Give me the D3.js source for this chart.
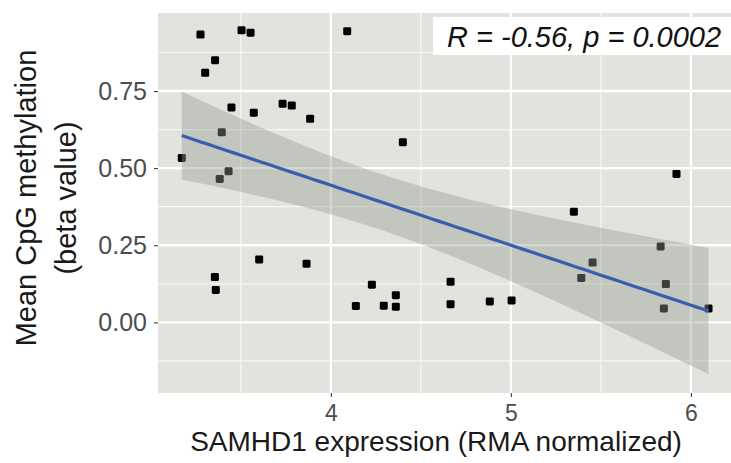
<!DOCTYPE html>
<html>
<head>
<meta charset="utf-8">
<script src="https://cdn.jsdelivr.net/npm/d3@7"></script>
<style>
  html, body { margin: 0; padding: 0; background: #ffffff; }
  svg { display: block; font-family: "Liberation Sans", Arial, Helvetica, sans-serif; }
</style>
</head>
<body>
<svg id="chart" width="731" height="463"></svg>
<script>
// SAMHD1 expression (RMA normalized) for each sample
const expression = [
  3.276, 3.504, 3.554, 3.357, 3.302, 3.448, 3.572, 3.732, 3.783, 3.885,
  3.394, 3.172, 3.432, 3.383, 4.091, 4.400, 3.602, 3.865, 3.356, 3.361,
  4.228, 4.139, 4.294, 4.361, 4.361, 4.665, 4.665, 4.883, 5.004, 5.920,
  5.350, 5.832, 5.454, 5.391, 5.861, 5.850, 6.098
];
// Mean CpG methylation (beta value) for the same samples
const methylation = [
  0.933, 0.947, 0.939, 0.850, 0.809, 0.697, 0.680, 0.709, 0.703, 0.660,
  0.616, 0.533, 0.490, 0.465, 0.944, 0.584, 0.204, 0.190, 0.147, 0.105,
  0.122, 0.053, 0.054, 0.088, 0.051, 0.132, 0.059, 0.068, 0.071, 0.481,
  0.359, 0.246, 0.194, 0.144, 0.124, 0.045, 0.045
];
const xTicks = [4, 5, 6];
const xMinor = [3.5, 4.5, 5.5];
const yTicks = [0, 0.25, 0.5, 0.75];
const yTickLabels = ["0.00", "0.25", "0.50", "0.75"];
const yMinor = [-0.125, 0.125, 0.375, 0.625, 0.875];
const statLabel = "R = -0.56, p = 0.0002";
const xTitle = "SAMHD1 expression (RMA normalized)";
const yTitleLines = ["Mean CpG methylation", "(beta value)"];

const svg = d3.select("#chart");
const panel = { left: 158, right: 735, top: 13, bottom: 393 };

const x = d3.scaleLinear().domain([3.04, 6.245]).range([panel.left, panel.right]);
const y = d3.scaleLinear().domain([-0.229, 1.003]).range([panel.bottom, panel.top]);

// Panel background
svg.append("rect")
  .attr("x", panel.left).attr("y", panel.top)
  .attr("width", panel.right - panel.left).attr("height", panel.bottom - panel.top)
  .attr("fill", "#e1e3de");

const grid = svg.append("g");
grid.selectAll("line.ymin").data(yMinor).join("line")
  .attr("x1", panel.left).attr("x2", panel.right)
  .attr("y1", d => y(d)).attr("y2", d => y(d))
  .attr("stroke", "#f7f7f5").attr("stroke-width", 1.2);
grid.selectAll("line.xmin").data(xMinor).join("line")
  .attr("y1", panel.top).attr("y2", panel.bottom)
  .attr("x1", d => x(d)).attr("x2", d => x(d))
  .attr("stroke", "#f7f7f5").attr("stroke-width", 1.2);
grid.selectAll("line.ymaj").data(yTicks).join("line")
  .attr("x1", panel.left).attr("x2", panel.right)
  .attr("y1", d => y(d)).attr("y2", d => y(d))
  .attr("stroke", "#ffffff").attr("stroke-width", 2.4);
grid.selectAll("line.xmaj").data(xTicks).join("line")
  .attr("y1", panel.top).attr("y2", panel.bottom)
  .attr("x1", d => x(d)).attr("x2", d => x(d))
  .attr("stroke", "#ffffff").attr("stroke-width", 2.4);

// Points
const pts = expression.map((e, i) => ({ x: e, y: methylation[i] }));
svg.append("g").selectAll("rect").data(pts).join("rect")
  .attr("x", d => x(d.x) - 4).attr("y", d => y(d.y) - 4)
  .attr("width", 8).attr("height", 8).attr("rx", 1.4)
  .attr("fill", "#000000");

// Linear fit with 95% confidence band
const n = pts.length;
const mx = d3.mean(pts, d => d.x), my = d3.mean(pts, d => d.y);
const sxx = d3.sum(pts, d => (d.x - mx) ** 2);
const sxy = d3.sum(pts, d => (d.x - mx) * (d.y - my));
const slope = sxy / sxx, intercept = my - slope * mx;
const rss = d3.sum(pts, d => (d.y - (intercept + slope * d.x)) ** 2);
const se = Math.sqrt(rss / (n - 2));
const tq = 2.030; // t(0.975, df = 35)
const [xlo, xhi] = d3.extent(pts, d => d.x);
const fit = d3.range(0, 81).map(i => {
  const xv = xlo + (xhi - xlo) * i / 80;
  const yv = intercept + slope * xv;
  const h = tq * se * Math.sqrt(1 / n + (xv - mx) ** 2 / sxx);
  return { x: xv, y: yv, lo: yv - h, hi: yv + h };
});

svg.append("path").datum(fit)
  .attr("d", d3.area().x(d => x(d.x)).y0(d => y(d.lo)).y1(d => y(d.hi)))
  .attr("fill", "#969a8e").attr("fill-opacity", 0.4);
svg.append("path").datum(fit)
  .attr("d", d3.line().x(d => x(d.x)).y(d => y(d.y)))
  .attr("fill", "none").attr("stroke", "#3a5eae").attr("stroke-width", 3.2);

// Correlation label
svg.append("rect")
  .attr("x", 433).attr("y", 17).attr("width", 300).attr("height", 38)
  .attr("fill", "#ffffff");
svg.append("text")
  .attr("x", 447).attr("y", 47)
  .attr("font-size", 29).attr("font-style", "italic").attr("fill", "#111111")
  .text(statLabel);

// Axes
const xAxis = svg.append("g").attr("transform", `translate(0,${panel.bottom})`)
  .call(d3.axisBottom(x).tickValues(xTicks).tickSize(4).tickPadding(8).tickFormat(d3.format("d")));
const yAxis = svg.append("g").attr("transform", `translate(${panel.left},0)`)
  .call(d3.axisLeft(y).tickValues(yTicks).tickSize(4).tickPadding(7).tickFormat((d, i) => yTickLabels[i]));
[xAxis, yAxis].forEach(a => {
  a.select(".domain").remove();
  a.selectAll(".tick line").attr("stroke", "#333333");
  a.selectAll(".tick text").attr("fill", "#4d4d4d")
    .attr("font-family", "Liberation Sans, Arial, sans-serif");
});
xAxis.selectAll(".tick text").attr("font-size", 23);
yAxis.selectAll(".tick text").attr("font-size", 25);

svg.append("text")
  .attr("x", 436).attr("y", 451)
  .attr("text-anchor", "middle").attr("font-size", 28).attr("fill", "#1a1a1a")
  .text(xTitle);

const yt = svg.append("text")
  .attr("transform", "translate(0,198) rotate(-90)")
  .attr("text-anchor", "middle").attr("font-size", 29).attr("fill", "#1a1a1a");
yTitleLines.forEach((t, i) => {
  yt.append("tspan").attr("x", 0).attr("y", i === 0 ? 36 : 76).text(t);
});
</script>
</body>
</html>
